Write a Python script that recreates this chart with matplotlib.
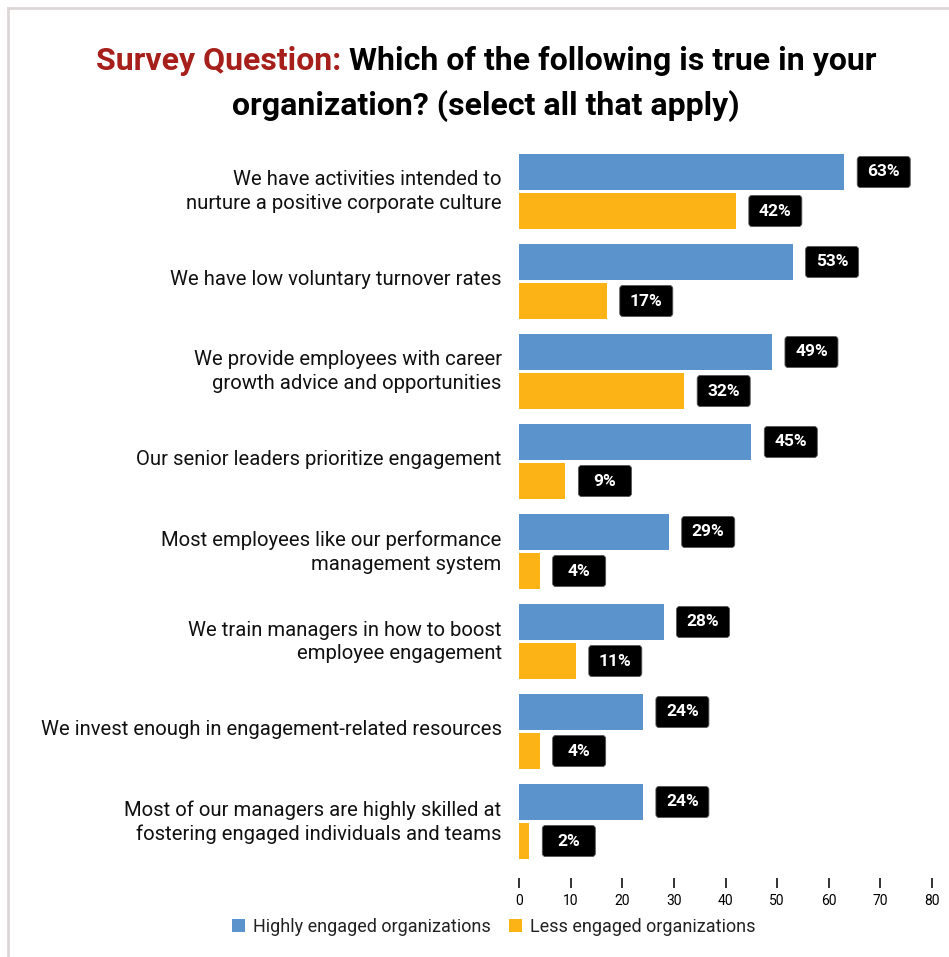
import matplotlib
matplotlib.use('Agg')
import matplotlib.pyplot as plt
from matplotlib.patches import FancyBboxPatch, Patch
from matplotlib.lines import Line2D

plt.rcParams['font.family'] = ['Roboto', 'DejaVu Sans']

# == survey results (percent of respondents)
categories = [
    'We have activities intended to\nnurture a positive corporate culture',
    'We have low voluntary turnover rates',
    'We provide employees with career\ngrowth advice and opportunities',
    'Our senior leaders prioritize engagement',
    'Most employees like our performance\nmanagement system',
    'We train managers in how to boost\nemployee engagement',
    'We invest enough in engagement-related resources',
    'Most of our managers are highly skilled at\nfostering engaged individuals and teams',
]
highly_engaged = [63, 53, 49, 45, 29, 28, 24, 24]
less_engaged = [42, 17, 32, 9, 4, 11, 4, 2]
series_names = ['Highly engaged organizations', 'Less engaged organizations']
xticks = [0, 10, 20, 30, 40, 50, 60, 70, 80]

col_blue = '#5b94cc'
col_orange = '#fcb316'
col_red = '#a61f1b'

W, H = 949, 957
fig = plt.figure(figsize=(W / 100, H / 100), dpi=100)
fig.patch.set_facecolor('white')

# axes placed in pixel terms
ax = fig.add_axes([519 / W, 1 - 866.5 / H, (932 - 519) / W, (866.5 - 146.5) / H])

ypos = list(range(len(categories)))
off = 0.2167
bar_h = 0.4
ax.barh([y - off for y in ypos], highly_engaged, height=bar_h, color=col_blue)
ax.barh([y + off for y in ypos], less_engaged, height=bar_h, color=col_orange)

ax.set_xlim(0, 80)
ax.set_ylim(len(categories) - 0.5, -0.5)

# value tags: black rounded boxes just right of each bar
px = 80 / (932 - 519)          # data units per pixel along x
py = 8 / (866.5 - 146.5)       # data units per pixel along y
box_w, box_h, gap = 53 * px, 31 * py, 13 * px
for vals, sign in ((highly_engaged, -1), (less_engaged, 1)):
    for y, v in zip(ypos, vals):
        yc = y + sign * off
        box = FancyBboxPatch((v + gap, yc - box_h / 2), box_w, box_h,
                             boxstyle='round,pad=0,rounding_size=0.6',
                             mutation_aspect=py / px,
                             facecolor='black', edgecolor='#555555', lw=0.6,
                             clip_on=False, zorder=3)
        ax.add_patch(box)
        ax.text(v + gap + box_w / 2, yc, '{}%'.format(v), color='white',
                fontsize=12.5, fontweight='bold', ha='center', va='center',
                zorder=4)

# category labels sit a few pixels above the group centre
ax.set_yticks([y - 4 * py for y in ypos])
ax.set_yticklabels(categories, fontsize=14.6, color='#111111', linespacing=1.33)
ax.tick_params(axis='y', length=0, pad=12.5)

ax.set_xticks(xticks)
ax.set_xticklabels([str(t) for t in xticks], fontsize=9, color='#333333')
ax.tick_params(axis='x', length=7, width=1.4, color='#333333', pad=5)
for s in ax.spines.values():
    s.set_visible(False)
ax.spines['bottom'].set_position(('outward', 8))

# legend
handles = [Patch(facecolor=col_blue, label=series_names[0]),
           Patch(facecolor=col_orange, label=series_names[1])]
fig.legend(handles=handles, loc='center', bbox_to_anchor=(494 / W, 1 - 927 / H),
           ncol=2, frameon=False, fontsize=13, handlelength=0.72,
           handleheight=0.72, handletextpad=0.45, columnspacing=1.0,
           labelcolor='#222222')

# title, first line in two colours
fig.canvas.draw()
r = fig.canvas.get_renderer()
t1 = fig.text(0, 1 - 61 / H, 'Survey Question: ', fontsize=23, fontweight='bold',
              color=col_red, va='center', ha='left')
t2 = fig.text(0, 1 - 61 / H, 'Which of the following is true in your',
              fontsize=23, fontweight='bold', color='black', va='center', ha='left')
w1 = t1.get_window_extent(r).width
w2 = t2.get_window_extent(r).width
x0 = 486 - (w1 + w2) / 2
t1.set_x(x0 / W)
t2.set_x((x0 + w1) / W)
fig.text(486 / W, 1 - 106 / H, 'organization? (select all that apply)', fontsize=23,
         fontweight='bold', color='black', va='center', ha='center')

# light frame on the left and top edges
fig.add_artist(Line2D([8 / W, 8 / W], [0, 1 - 8 / H], color='#ddd6d6', lw=2))
fig.add_artist(Line2D([8 / W, 1], [1 - 8 / H, 1 - 8 / H], color='#ddd6d6', lw=2))

fig.savefig('out.png', dpi=100, facecolor='white')
